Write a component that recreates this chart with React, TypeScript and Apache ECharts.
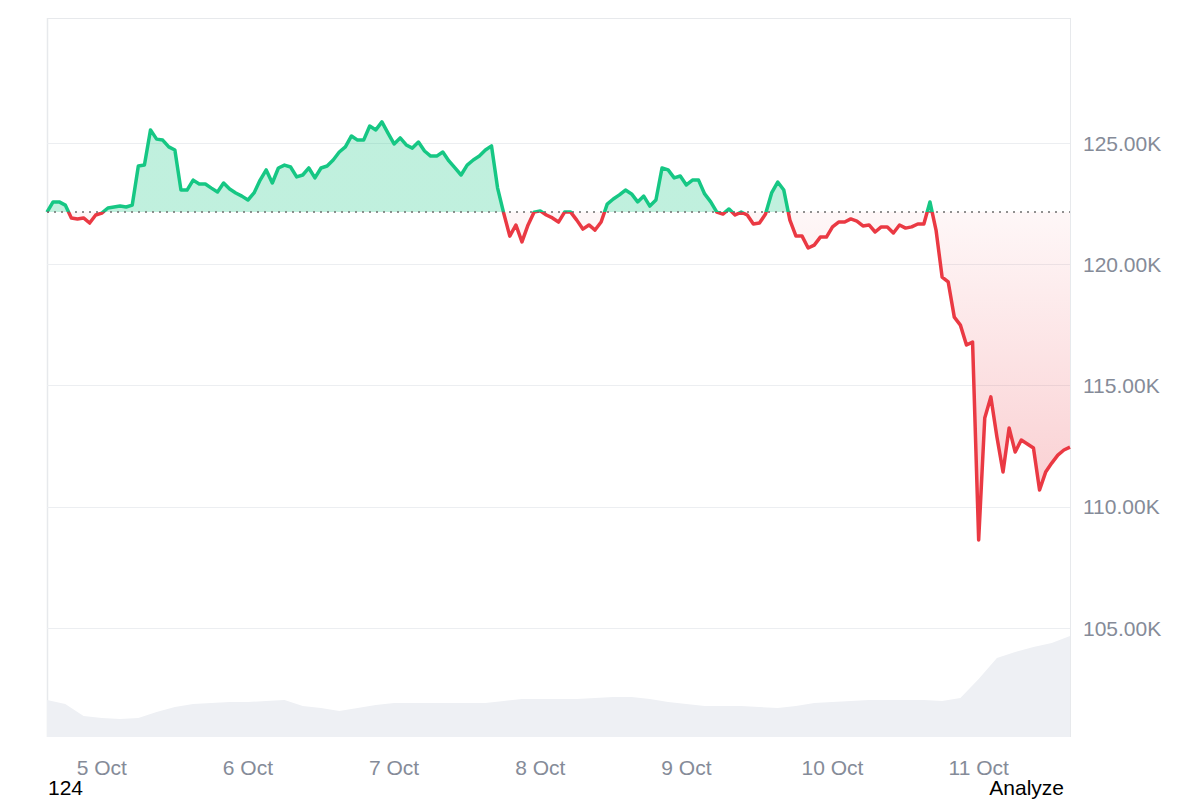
import React, { useEffect, useRef } from "react";
import * as echarts from "echarts";

// ---- data -------------------------------------------------------------
// Hourly price (thousands of USD) from 4 Oct 15:00 UTC to 11 Oct 15:00 UTC
const START_UTC = Date.UTC(2025, 9, 4, 15, 0);
const BASE_PRICE = 122.15; // opening price of the period (dotted reference line)
const PRICE_K = [
  122.15, 122.57, 122.57, 122.44, 121.91, 121.87, 121.91, 121.7, 122.03, 122.11, 122.32, 122.36,
  122.4, 122.36, 122.44, 124.05, 124.09, 125.54, 125.16, 125.12, 124.84, 124.71, 123.06, 123.06,
  123.47, 123.31, 123.31, 123.14, 122.98, 123.35, 123.1, 122.94, 122.81, 122.65, 122.94, 123.47,
  123.89, 123.35, 123.97, 124.09, 124.01, 123.6, 123.68, 123.97, 123.56, 123.97, 124.05, 124.3,
  124.63, 124.84, 125.29, 125.12, 125.12, 125.7, 125.54, 125.87, 125.41, 124.96, 125.21, 124.92,
  124.79, 125.04, 124.67, 124.46, 124.46, 124.63, 124.26, 123.97, 123.68, 124.09, 124.3, 124.46,
  124.71, 124.88, 123.14, 122.11, 121.16, 121.62, 120.92, 121.62, 122.15, 122.2, 122.03, 121.91,
  121.74, 122.15, 122.15, 121.82, 121.45, 121.62, 121.41, 121.74, 122.48, 122.69, 122.86, 123.06,
  122.9, 122.57, 122.81, 122.4, 122.65, 123.97, 123.89, 123.56, 123.64, 123.27, 123.47, 123.47,
  122.9, 122.57, 122.15, 122.07, 122.28, 122.03, 122.15, 122.03, 121.66, 121.7, 122.07, 122.94,
  123.39, 123.06, 121.82, 121.16, 121.16, 120.67, 120.79, 121.12, 121.12, 121.54, 121.74, 121.74,
  121.87, 121.78, 121.58, 121.62, 121.33, 121.54, 121.54, 121.29, 121.62, 121.49, 121.54, 121.66,
  121.66, 122.57, 121.41, 119.47, 119.27, 117.82, 117.49, 116.67, 116.79, 108.63, 113.66, 114.53,
  112.88, 111.43, 113.25, 112.26, 112.75, 112.59, 112.42, 110.69, 111.43, 111.8, 112.13, 112.34, 112.46,
];
// 3-hourly trading volume (relative units) over the same period
const VOLUME = [
  37, 33, 21, 19, 18, 19, 25, 30, 33, 34,
  35, 35, 36, 37, 31, 29, 26, 29, 32, 34,
  34, 34, 34, 34, 34, 36, 38, 38, 38, 38,
  39, 40, 40, 38, 35, 33, 31, 31, 31, 30,
  29, 31, 34, 35, 36, 37, 37, 37, 37, 36,
  39, 58, 79, 85, 90, 94, 101,
];
const Y_MIN = 100;
const Y_MAX = 130;
const Y_STEP = 5;
const MONTHS = ["Jan", "Feb", "Mar", "Apr", "May", "Jun", "Jul", "Aug", "Sep", "Oct", "Nov", "Dec"];
const TIME_LABELS = PRICE_K.map((_, i) => {
  const d = new Date(START_UTC + i * 3600 * 1000);
  const hh = String(d.getUTCHours()).padStart(2, "0");
  return `${d.getUTCDate()} ${MONTHS[d.getUTCMonth()]} ${hh}:00`;
});
const VOLUME_LABELS = VOLUME.map((_, j) => String(j));

// ---- style ------------------------------------------------------------
const FONT = 'Arial, "Liberation Sans", Helvetica, sans-serif';
const GREEN = "#16c784";
const RED = "#ea3943";
const LABEL = "#858b98";
const GRID = "#eceef1";
const FRAME = "#e7e9ec";
const NONE = "rgba(0,0,0,0)";

export default function App() {
  const ref = useRef<HTMLDivElement>(null);

  useEffect(() => {
    const el = ref.current;
    if (!el) return;
    const chart = echarts.init(el, null, { renderer: "svg" });

    const maxP = Math.max(...PRICE_K);
    const minP = Math.min(...PRICE_K);
    const off = (maxP - BASE_PRICE) / (maxP - minP);

    const lineGradient = new echarts.graphic.LinearGradient(0, 0, 0, 1, [
      { offset: 0, color: GREEN },
      { offset: off, color: GREEN },
      { offset: off, color: RED },
      { offset: 1, color: RED },
    ]);
    const areaGradient = new echarts.graphic.LinearGradient(0, 0, 0, 1, [
      { offset: 0, color: "rgba(22,199,132,0.27)" },
      { offset: off, color: "rgba(22,199,132,0.27)" },
      { offset: off, color: "rgba(234,57,67,0.04)" },
      { offset: 1, color: "rgba(234,57,67,0.27)" },
    ]);

    const nTicks = Math.round((Y_MAX - Y_MIN) / Y_STEP) + 1;
    const splitColors = Array.from({ length: nTicks }, (_, k) => (k === 0 || k === nTicks - 1 ? NONE : GRID));

    const option: any = {
      animation: false,
      backgroundColor: "#ffffff",
      textStyle: { fontFamily: FONT },
      grid: [
        { left: 47, right: 130, top: 21.75, bottom: 50.75 },
        { left: 47, right: 130, top: 600, bottom: 63 },
      ],
      xAxis: [
        {
          type: "category",
          gridIndex: 0,
          data: TIME_LABELS,
          boundaryGap: false,
          axisLine: { show: false },
          axisTick: { show: false },
          splitLine: { show: false },
          axisLabel: {
            interval: (_i: number, v: string) => v.endsWith(" 00:00"),
            formatter: (v: string) => v.split(" ").slice(0, 2).join(" "),
            color: LABEL,
            fontSize: 21,
            fontFamily: FONT,
            margin: 8,
          },
        },
        {
          type: "category",
          gridIndex: 1,
          data: VOLUME_LABELS,
          boundaryGap: false,
          show: false,
        },
      ],
      yAxis: [
        {
          type: "value",
          gridIndex: 0,
          position: "right",
          min: Y_MIN,
          max: Y_MAX,
          interval: Y_STEP,
          axisLine: { show: false },
          axisTick: { show: false },
          splitLine: { show: true, lineStyle: { color: splitColors, width: 1 } },
          axisLabel: {
            formatter: (v: number) => (v <= Y_MIN || v >= Y_MAX ? "" : v.toFixed(2) + "K"),
            color: LABEL,
            fontSize: 21,
            fontFamily: FONT,
            margin: 13,
          },
        },
        { type: "value", gridIndex: 1, min: 0, max: 137, show: false },
      ],
      series: [
        {
          type: "line",
          xAxisIndex: 0,
          yAxisIndex: 0,
          data: PRICE_K,
          showSymbol: false,
          symbol: "none",
          z: 3,
          lineStyle: { width: 3.5, color: lineGradient, join: "round" },
          areaStyle: { origin: BASE_PRICE, opacity: 1, color: areaGradient },
          markLine: {
            silent: true,
            symbol: "none",
            label: { show: false },
            lineStyle: { type: [2, 5], color: "#6e6e6e", width: 1.5 },
            data: [{ yAxis: BASE_PRICE }],
          },
        },
        {
          type: "line",
          xAxisIndex: 1,
          yAxisIndex: 1,
          data: VOLUME,
          showSymbol: false,
          symbol: "none",
          z: 1,
          lineStyle: { width: 0 },
          areaStyle: { color: "#eef0f4", opacity: 1 },
        },
      ],
      graphic: [
        { type: "line", silent: true, z: 0, shape: { x1: 47, y1: 18.5, x2: 1071, y2: 18.5 }, style: { stroke: FRAME, lineWidth: 1 } },
        { type: "line", silent: true, z: 0, shape: { x1: 47.5, y1: 18, x2: 47.5, y2: 737 }, style: { stroke: FRAME, lineWidth: 1.5 } },
        { type: "line", silent: true, z: 0, shape: { x1: 1070.5, y1: 18, x2: 1070.5, y2: 737 }, style: { stroke: FRAME, lineWidth: 1 } },
        {
          type: "text",
          silent: true,
          style: { text: "124", x: 48, y: 787, font: `21px ${FONT}`, fill: "#000000", textAlign: "left", textVerticalAlign: "middle" },
        },
        {
          type: "text",
          silent: true,
          style: { text: "Analyze", x: 1064, y: 787, font: `21px ${FONT}`, fill: "#000000", textAlign: "right", textVerticalAlign: "middle" },
        },
      ],
    };

    chart.setOption(option);
    return () => chart.dispose();
  }, []);

  return <div ref={ref} style={{ position: "fixed", left: 0, top: 0, width: 1200, height: 800 }} />;
}
